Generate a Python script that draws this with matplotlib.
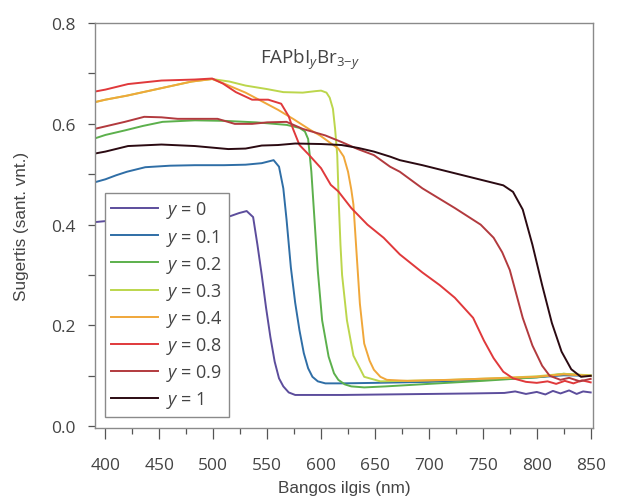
import matplotlib
matplotlib.use("Agg")
import matplotlib.pyplot as plt
from matplotlib.ticker import MultipleLocator

plt.rcParams['font.family'] = ['Open Sans', 'DejaVu Sans']
plt.rcParams['mathtext.fontset'] = 'custom'
plt.rcParams['mathtext.rm'] = 'Open Sans'
plt.rcParams['mathtext.it'] = 'Open Sans:italic'

# --- data ------------------------------------------------------------------
labels = ['0', '0.1', '0.2', '0.3', '0.4', '0.8', '0.9', '1']

wl_0 = [390, 400, 420, 440, 460, 480, 500, 516, 524, 531, 537, 541, 545, 549, 553,
        557, 561, 565, 570, 576, 590, 620, 660, 700, 740, 770, 780, 790, 800, 808,
        815, 822, 830, 837, 843, 850]
ab_0 = [0.405, 0.407, 0.409, 0.411, 0.413, 0.414, 0.415, 0.417, 0.423, 0.427, 0.415, 0.36,
        0.30, 0.235, 0.177, 0.128, 0.095, 0.079, 0.067, 0.062, 0.062, 0.062, 0.063, 0.064,
        0.065, 0.066, 0.069, 0.064, 0.068, 0.063, 0.070, 0.065, 0.071, 0.064, 0.069, 0.067]

wl_1 = [390, 400, 410, 420, 437, 460, 483, 510, 530, 545, 556, 561, 565, 568, 572, 576,
        580, 584, 588, 592, 597, 604, 620, 650, 700, 750, 800, 825, 850]
ab_1 = [0.484, 0.49, 0.498, 0.505, 0.514, 0.517, 0.518, 0.518, 0.519, 0.522, 0.528, 0.515,
        0.472, 0.41, 0.315, 0.245, 0.19, 0.145, 0.115, 0.098, 0.089, 0.085, 0.085, 0.086,
        0.088, 0.092, 0.097, 0.101, 0.1]

wl_2 = [390, 400, 418, 435, 453, 483, 510, 540, 568, 580, 585, 588, 591, 594, 597, 601,
        607, 612, 616, 622, 628, 640, 660, 700, 750, 800, 825, 850]
ab_2 = [0.571, 0.578, 0.587, 0.596, 0.604, 0.607, 0.606, 0.603, 0.598, 0.592, 0.585, 0.57,
        0.505, 0.407, 0.308, 0.21, 0.138, 0.105, 0.092, 0.083, 0.079, 0.077, 0.079, 0.084,
        0.09, 0.097, 0.104, 0.1]

wl_3 = [390, 400, 420, 450, 480, 499, 515, 530, 550, 565, 583, 595, 600, 605, 608, 611,
        613, 615, 616.5, 618, 619.5, 624, 630, 640, 655, 680, 720, 760, 800, 825, 850]
ab_3 = [0.643, 0.648, 0.656, 0.67, 0.684, 0.689, 0.684, 0.676, 0.669, 0.663, 0.662, 0.665,
        0.666, 0.662, 0.652, 0.63, 0.59, 0.538, 0.44, 0.36, 0.30, 0.21, 0.14, 0.098, 0.089,
        0.09, 0.092, 0.095, 0.099, 0.104, 0.101]

wl_4 = [390, 400, 420, 450, 480, 499, 510, 530, 545, 560, 574, 590, 599, 610, 616, 621,
        625, 628, 630, 633, 636, 640, 645, 649, 655, 661, 680, 720, 760, 800, 825, 850]
ab_4 = [0.643, 0.648, 0.656, 0.67, 0.684, 0.689, 0.68, 0.662, 0.645, 0.628, 0.61, 0.588,
        0.577, 0.56, 0.551, 0.535, 0.505, 0.47, 0.44, 0.341, 0.243, 0.164, 0.13, 0.112,
        0.098, 0.092, 0.09, 0.092, 0.095, 0.098, 0.103, 0.1]

wl_8 = [390, 400, 421, 452, 483, 499, 509, 521, 536, 551, 563, 570, 574, 580, 589, 600,
        609, 616, 628, 643, 658, 673, 694, 710, 724, 741, 751, 760, 769, 778, 790, 800,
        810, 818, 826, 834, 842, 850]
ab_8 = [0.664, 0.668, 0.679, 0.686, 0.688, 0.69, 0.68, 0.663, 0.648, 0.648, 0.64, 0.615,
        0.59, 0.558, 0.538, 0.512, 0.479, 0.466, 0.433, 0.4, 0.374, 0.341, 0.305, 0.28,
        0.255, 0.215, 0.17, 0.135, 0.108, 0.095, 0.088, 0.086, 0.089, 0.084, 0.09, 0.085,
        0.091, 0.087]

wl_9 = [390, 400, 418, 436, 452, 467, 483, 504, 520, 536, 550, 568, 583, 604, 619, 634,
        649, 664, 673, 694, 724, 748, 760, 768, 775, 787, 796, 805, 812, 822, 830, 840, 850]
ab_9 = [0.59, 0.595, 0.604, 0.614, 0.613, 0.61, 0.61, 0.61, 0.6, 0.6, 0.603, 0.604, 0.59,
        0.577, 0.564, 0.55, 0.538, 0.515, 0.505, 0.472, 0.433, 0.4, 0.374, 0.345, 0.31,
        0.215, 0.16, 0.12, 0.1, 0.092, 0.096, 0.089, 0.094]

wl_10 = [390, 400, 421, 452, 483, 514, 530, 545, 560, 576, 600, 619, 635, 649, 664, 673,
         694, 724, 754, 769, 778, 787, 796, 805, 814, 823, 832, 841, 850]
ab_10 = [0.541, 0.545, 0.556, 0.559, 0.556, 0.55, 0.551, 0.557, 0.558, 0.561, 0.56, 0.558,
         0.552, 0.545, 0.535, 0.528, 0.518, 0.502, 0.486, 0.478, 0.465, 0.43, 0.36, 0.28,
         0.205, 0.148, 0.113, 0.098, 0.1]

colors = ['#5c4d9c', '#2f6ea6', '#5cb04c', '#bcd64c', '#f0a73a', '#e0393b', '#b23a3e',
          '#2b0a12']

series = [(wl_0, ab_0), (wl_1, ab_1), (wl_2, ab_2), (wl_3, ab_3), (wl_4, ab_4),
          (wl_8, ab_8), (wl_9, ab_9), (wl_10, ab_10)]

# --- figure ------------------------------------------------------------------
fig = plt.figure(figsize=(6.30, 5.02), dpi=100)
ax = fig.add_axes([0.151, 0.146, 0.790, 0.806])

for (x, y), c, lab in zip(series, colors, labels):
    ax.plot(x, y, color=c, lw=1.4, label=r'$y$ = ' + lab)

ax.set_xlim(390.5, 852)
ax.set_ylim(-0.003, 0.8)
ax.xaxis.set_major_locator(MultipleLocator(50))
ax.xaxis.set_minor_locator(MultipleLocator(25))
ax.yaxis.set_major_locator(MultipleLocator(0.2))
ax.yaxis.set_minor_locator(MultipleLocator(0.1))
ax.tick_params(axis='both', which='both', direction='out', colors='#555555',
               labelcolor='#444444', labelsize=12.5, width=0.9)
ax.tick_params(axis='x', which='major', length=8, pad=13)
ax.tick_params(axis='x', which='minor', length=4)
ax.tick_params(axis='y', which='both', length=5, pad=9)

for s in ax.spines.values():
    s.set_color('#8a8a8a')
    s.set_linewidth(1.0)

ax.set_xlabel('Bangos ilgis (nm)', fontsize=12.3, color='#444444', labelpad=5,
              family=['Liberation Sans', 'DejaVu Sans'])
ax.set_ylabel('Sugertis (sant. vnt.)', fontsize=12.3, color='#444444', labelpad=16,
              family=['Liberation Sans', 'DejaVu Sans'])

ax.text(590, 0.728, r'FAPbI$_y$Br$_{3\mathrm{-}y}$', fontsize=13.5, color='#444444',
        ha='center', va='center')

leg = ax.legend(loc='lower left', bbox_to_anchor=(0.02, 0.027), fontsize=13,
                handlelength=2.6, labelspacing=0.34, handletextpad=0.45,
                borderpad=0.35, borderaxespad=0, fancybox=False, framealpha=1,
                edgecolor='#8a8a8a')
leg.get_frame().set_linewidth(1.0)
for t in leg.get_texts():
    t.set_color('#444444')

fig.savefig('out.png', dpi=100)
